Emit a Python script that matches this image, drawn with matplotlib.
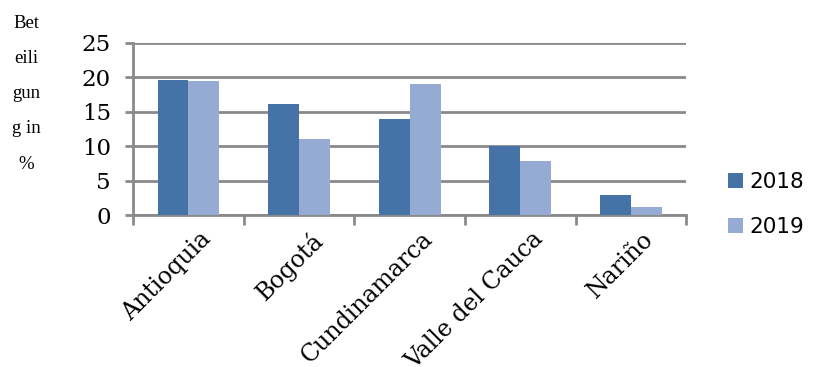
import matplotlib
matplotlib.use("Agg")
import matplotlib.pyplot as plt
import numpy as np

# Daten
regionen = ["Antioquia", "Bogotá", "Cundinamarca", "Valle del Cauca", "Nariño"]
werte_2018 = [19.6, 16.1, 13.9, 10.0, 2.9]
werte_2019 = [19.4, 11.1, 19.1, 7.9, 1.2]
jahre = ["2018", "2019"]
y_ticks = [0, 5, 10, 15, 20, 25]
y_titel = ["Bet", "eili", "gun", "g in", "%"]

farbe_2018 = "#4572a7"
farbe_2019 = "#95abd4"
grau = "#8a8a8a"

fig = plt.figure(figsize=(8.17, 3.67), dpi=100)
ax = fig.add_axes([0.163, 0.414, 0.677, 0.469])

x = np.arange(len(regionen))
breite = 0.28
ax.bar(x - breite / 2, werte_2018, breite, color=farbe_2018, label=jahre[0], zorder=3)
ax.bar(x + breite / 2, werte_2019, breite, color=farbe_2019, label=jahre[1], zorder=3)

ax.set_xlim(-0.5, len(regionen) - 0.5)
ax.set_ylim(0, 25)
ax.set_yticks(y_ticks)
ax.set_yticklabels([str(v) for v in y_ticks], family="DejaVu Serif", fontsize=16.5)

# Gitterlinien
ax.yaxis.grid(True, color=grau, lw=2, zorder=0)
for s in ["top", "right"]:
    ax.spines[s].set_visible(False)
for s in ["left", "bottom"]:
    ax.spines[s].set_color(grau)
    ax.spines[s].set_linewidth(2)
ax.tick_params(axis="y", color=grau, width=2, length=6, pad=10)

# Kategorie-Trennstriche unten
ax.set_xticks(np.arange(len(regionen) + 1) - 0.5)
ax.set_xticklabels([])
ax.tick_params(axis="x", color=grau, width=2, length=7)
for i, name in enumerate(regionen):
    ax.annotate(name, xy=(i + 0.1, 0), xycoords=("data", "axes fraction"),
                xytext=(0, -9), textcoords="offset points",
                rotation=45, ha="right", va="top", rotation_mode="anchor",
                family="DejaVu Serif", fontsize=17)

# Achsentitel, umgebrochen
for k, zeile in enumerate(y_titel):
    fig.text(0.032, 1 - (23 + 35.3 * k) / 367, zeile, family="Liberation Serif",
             fontsize=13.5, ha="center", va="center")

leg = ax.legend(loc="center left", bbox_to_anchor=(1.04, 0.06), frameon=False,
                handlelength=0.7, handleheight=0.7, handletextpad=0.3,
                labelspacing=1.15, prop={"family": "DejaVu Sans", "size": 15.5})

fig.savefig("out.png", dpi=100)
